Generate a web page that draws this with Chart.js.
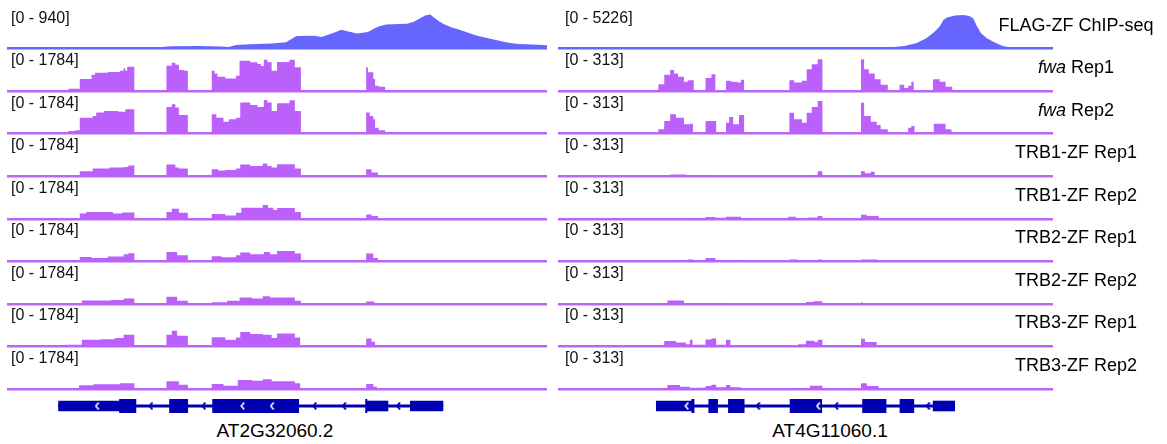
<!DOCTYPE html>
<html>
<head>
<meta charset="utf-8">
<script src="https://cdn.jsdelivr.net/npm/chart.js@4.4.1/dist/chart.umd.min.js"></script>
<style>
body { margin: 0; background: #fff; width: 1167px; height: 444px; position: relative; overflow: hidden;
       font-family: Arial, "Liberation Sans", sans-serif; color: #000; }
.box { position: absolute; }
.range { position: absolute; font-size: 16px; line-height: 16px; white-space: nowrap; color: #111; }
.name { position: absolute; font-size: 18px; line-height: 18px; white-space: nowrap; transform: translateX(-50%); }
.gene { position: absolute; font-size: 19px; line-height: 19px; white-space: nowrap; transform: translateX(-50%); }
</style>
</head>
<body>
<div class="box" style="left:7px;top:6px;width:540px;height:386px"><canvas id="leftTracks"></canvas></div>
<div class="box" style="left:558px;top:6px;width:495px;height:386px"><canvas id="rightTracks"></canvas></div>
<div class="box" style="left:7px;top:394px;width:540px;height:24px"><canvas id="leftGene"></canvas></div>
<div class="box" style="left:558px;top:394px;width:495px;height:24px"><canvas id="rightGene"></canvas></div>
<div id="labels"></div>
<script>
// track names and data ranges
const trackNames = ['FLAG-ZF ChIP-seq', '<i>fwa</i> Rep1', '<i>fwa</i> Rep2', 'TRB1-ZF Rep1', 'TRB1-ZF Rep2',
    'TRB2-ZF Rep1', 'TRB2-ZF Rep2', 'TRB3-ZF Rep1', 'TRB3-ZF Rep2'];
const leftRanges = [940, 1784, 1784, 1784, 1784, 1784, 1784, 1784, 1784];
const rightRanges = [5226, 313, 313, 313, 313, 313, 313, 313, 313];
const leftWindow = 1514;   // bp shown, AT2G32060
const rightWindow = 1258;  // bp shown, AT4G11060
const geneNames = ['AT2G32060.2', 'AT4G11060.1'];

// coverage as [position, value] - value holds until the next position
const leftChip = [[0, 33], [60, 25], [140, 30], [250, 22], [330, 28], [420, 33], [462, 61], [540, 72], [600, 60], [622, 44],
    [642, 97], [682, 119], [742, 138], [782, 174], [812, 345], [862, 351], [882, 317], [902, 386], [922, 455], [937, 516],
    [957, 469], [982, 414], [1012, 455], [1027, 538], [1042, 607], [1062, 662], [1122, 682], [1142, 745], [1157, 828],
    [1172, 911], [1187, 938], [1197, 856], [1212, 745], [1227, 662], [1247, 580], [1267, 524], [1287, 455], [1307, 386],
    [1327, 331], [1352, 276], [1377, 221], [1402, 166], [1432, 124], [1472, 110], [1514, 90]];
const leftFwaRep1 = [[0, 0], [172, 121], [204, 630], [237, 856], [247, 961], [282, 998], [317, 1066], [327, 1192], [332, 1066],
    [337, 1276], [357, 0], [447, 1328], [462, 1486], [472, 1381], [482, 1103], [497, 1066], [507, 0], [574, 1066], [582, 929],
    [590, 751], [612, 667], [642, 803], [652, 1591], [682, 1507], [702, 1418], [712, 1313], [720, 1643], [730, 1507],
    [742, 1066], [757, 1523], [792, 1643], [807, 1244], [824, 0], [1007, 1244], [1012, 982], [1027, 630], [1032, 278],
    [1042, 226], [1060, 0], [1514, 0]];
const leftFwaRep2 = [[0, 0], [172, 140], [192, 175], [204, 840], [240, 929], [250, 1103], [272, 1192], [312, 1155], [332, 1276],
    [357, 0], [447, 1400], [462, 1538], [472, 1365], [482, 982], [507, 0], [574, 1013], [587, 840], [607, 630], [622, 751],
    [642, 840], [654, 1628], [682, 1507], [702, 1400], [720, 1769], [730, 1628], [742, 1192], [757, 1591], [792, 1748],
    [807, 1192], [824, 0], [1007, 1103], [1017, 929], [1027, 751], [1032, 315], [1042, 175], [1060, 0], [1514, 0]];
const leftTrb1Rep1 = [[0, 0], [204, 263], [240, 404], [287, 457], [327, 488], [340, 562], [357, 0], [447, 614], [472, 457],
    [482, 404], [507, 0], [574, 368], [592, 299], [612, 331], [642, 404], [654, 614], [682, 541], [717, 667], [730, 541],
    [742, 457], [757, 630], [807, 404], [824, 0], [1007, 368], [1022, 194], [1040, 0], [1514, 0]];
const leftTrb1Rep2 = [[0, 0], [204, 278], [222, 352], [297, 278], [322, 331], [357, 0], [447, 352], [462, 525], [482, 315],
    [507, 0], [574, 247], [612, 175], [642, 315], [657, 578], [717, 719], [732, 578], [747, 457], [757, 562], [807, 352],
    [824, 0], [1007, 226], [1022, 140], [1040, 0], [1514, 0]];
const leftTrb2Rep1 = [[0, 0], [204, 226], [237, 175], [282, 247], [327, 368], [340, 420], [357, 0], [447, 488], [477, 315],
    [507, 0], [574, 263], [602, 210], [642, 315], [654, 457], [682, 368], [720, 488], [737, 368], [757, 541], [807, 404],
    [824, 0], [1007, 404], [1027, 175], [1040, 0], [1514, 0]];
const leftTrb2Rep2 = [[0, 0], [210, 175], [292, 210], [327, 278], [357, 0], [447, 368], [477, 158], [507, 0], [574, 89],
    [617, 158], [652, 331], [687, 278], [717, 404], [737, 331], [807, 158], [824, 0], [1007, 121], [1030, 0], [1514, 0]];
const leftTrb3Rep1 = [[0, 0], [162, 89], [210, 352], [262, 383], [302, 436], [327, 614], [357, 0], [447, 614], [462, 824],
    [477, 562], [507, 0], [574, 488], [612, 352], [642, 473], [654, 751], [682, 646], [717, 614], [742, 436], [757, 683],
    [807, 473], [822, 0], [1007, 420], [1022, 247], [1032, 0], [1514, 0]];
const leftTrb3Rep2 = [[0, 0], [202, 194], [242, 247], [317, 299], [357, 0], [447, 404], [482, 226], [507, 0], [574, 263],
    [607, 175], [647, 473], [687, 436], [717, 509], [742, 404], [807, 299], [822, 0], [1007, 263], [1027, 121], [1037, 0],
    [1514, 0]];

const rightChip = [[0, 0], [300, 15], [600, 20], [840, 154], [880, 410], [910, 820], [935, 1537], [955, 2460], [970, 3380],
    [980, 4410], [990, 4810], [1010, 5070], [1030, 5150], [1045, 5000], [1055, 4660], [1065, 3380], [1075, 2350],
    [1090, 1588], [1110, 922], [1130, 410], [1150, 154], [1180, 40], [1258, 0]];
const rightFwaRep1 = [[0, 0], [255, 64], [270, 150], [285, 193], [295, 163], [305, 132], [320, 86], [330, 101], [345, 0],
    [375, 120], [390, 156], [400, 0], [427, 95], [440, 86], [455, 80], [465, 104], [473, 0], [588, 101], [600, 80], [620, 95],
    [632, 202], [645, 248], [660, 294], [672, 0], [770, 294], [778, 202], [790, 163], [805, 110], [820, 58], [838, 0],
    [868, 58], [880, 28], [890, 49], [898, 86], [904, 0], [953, 110], [970, 86], [985, 40], [1002, 0], [1258, 0]];
const rightFwaRep2 = [[0, 0], [255, 40], [270, 117], [285, 178], [300, 147], [320, 86], [335, 92], [343, 0], [375, 117],
    [402, 0], [427, 101], [435, 154], [445, 86], [460, 172], [473, 0], [588, 193], [600, 132], [620, 101], [632, 193],
    [645, 246], [660, 301], [672, 0], [770, 285], [778, 163], [795, 110], [810, 80], [820, 40], [838, 0], [890, 55],
    [898, 71], [906, 0], [955, 92], [985, 40], [1000, 0], [1258, 0]];
const rightTrb1Rep1 = [[0, 0], [285, 16], [325, 9], [375, 9], [400, 0], [635, 9], [660, 46], [672, 0], [770, 46], [780, 28],
    [795, 40], [805, 0], [1258, 0]];
const rightTrb1Rep2 = [[0, 0], [330, 6], [375, 16], [400, 9], [427, 18], [465, 6], [490, 0], [585, 18], [605, 6], [635, 12],
    [660, 25], [672, 0], [770, 37], [785, 25], [815, 0], [1258, 0]];
const rightTrb2Rep1 = [[0, 0], [290, 6], [330, 18], [345, 9], [375, 31], [400, 12], [470, 0], [588, 16], [610, 6], [660, 18],
    [672, 0], [770, 16], [812, 0], [1258, 0]];
const rightTrb2Rep2 = [[0, 0], [278, 31], [320, 9], [375, 6], [430, 0], [630, 18], [650, 25], [672, 0], [770, 12], [775, 0],
    [1258, 0]];
const rightTrb3Rep1 = [[0, 0], [270, 49], [300, 37], [325, 21], [335, 61], [342, 16], [375, 64], [390, 74], [402, 16],
    [427, 61], [438, 0], [610, 21], [630, 52], [652, 40], [660, 61], [672, 0], [770, 71], [780, 40], [810, 0], [1258, 0]];
const rightTrb3Rep2 = [[0, 0], [278, 37], [310, 21], [335, 12], [375, 28], [390, 40], [402, 16], [427, 37], [438, 16],
    [465, 0], [585, 9], [640, 31], [672, 0], [770, 52], [785, 28], [815, 0], [1258, 0]];

// gene models: [start, end] in window bp
const leftUtr = [[133, 307], [1012, 1074], [1138, 1231]];
const leftCds = [[307, 354], [450, 502], [573, 819]];
const leftIntron = [[133, 1231]];
const leftTick = [[1010, 1014]];
const leftStrandIntron = [397, 548, 865, 949, 1104];
const leftStrandExon = [243, 659, 743];
const rightUtr = [[242, 334], [960, 1016]];
const rightCds = [[378, 401], [429, 470], [589, 671], [777, 838], [874, 910]];
const rightIntron = [[242, 1016]];
const rightTick = [[334, 340]];
const rightStrandIntron = [506, 709, 947];
const rightStrandExon = [321, 662];

const chipColour = '#6666ff';
const rnaColour = '#bb60fa';
const rnaLine = '#b866f7';
const geneColour = '#0000b0';

// coverage tracks, one stacked y axis per track
function trackChart(id, ranges, tracks, xMax) {
    const scales = { x: { type: 'linear', min: 0, max: xMax, offset: false, display: false } };
    const datasets = [];
    tracks.forEach((pts, i) => {
        scales['y' + i] = {
            type: 'linear',
            position: 'left',
            stack: 'tracks',
            stackWeight: 1,
            weight: tracks.length - i,
            min: 0,
            max: ranges[i] * 1.25,
            afterBuildTicks: (s) => { s.ticks = [{ value: 0 }]; },
            ticks: { display: false },
            grid: { color: i === 0 ? chipColour : rnaLine, lineWidth: 2.5, drawTicks: false },
            border: { display: false }
        };
        datasets.push({
            data: pts.map(p => ({ x: p[0], y: p[1] })),
            yAxisID: 'y' + i,
            stepped: i === 0 ? false : 'before',
            fill: 'origin',
            backgroundColor: i === 0 ? chipColour : rnaColour,
            borderColor: 'rgba(0,0,0,0)',
            borderWidth: 0,
            pointRadius: 0
        });
    });
    new Chart(document.getElementById(id), {
        type: 'line',
        data: { datasets },
        options: {
            responsive: true,
            maintainAspectRatio: false,
            animation: false,
            layout: { padding: { bottom: 3 } },
            plugins: { legend: { display: false }, tooltip: { enabled: false } },
            scales
        }
    });
}

// little "<" marks for minus strand
function chevron(colour, w) {
    const c = document.createElement('canvas');
    c.width = 5;
    c.height = 8;
    const g = c.getContext('2d');
    g.strokeStyle = colour;
    g.lineWidth = w;
    g.beginPath();
    g.moveTo(4, 0.5);
    g.lineTo(1.2, 4);
    g.lineTo(4, 7.5);
    g.stroke();
    return c;
}

function geneChart(id, utr, cds, intron, tick, strandIntron, strandExon, xMax) {
    const bars = (list, h) => ({
        type: 'bar',
        grouped: false,
        barThickness: h,
        backgroundColor: geneColour,
        data: list.map(r => ({ x: r, y: 'gene' }))
    });
    const marks = (list, img) => ({
        type: 'scatter',
        pointStyle: img,
        pointRadius: 4,
        data: list.map(v => ({ x: v, y: 'gene' }))
    });
    new Chart(document.getElementById(id), {
        type: 'bar',
        data: {
            labels: ['gene'],
            datasets: [
                marks(strandExon, chevron('#ffffff', 1.6)),
                marks(strandIntron, chevron(geneColour, 2)),
                bars(tick, 18),
                bars(cds, 18),
                bars(utr, 10),
                bars(intron, 2.5)
            ]
        },
        options: {
            indexAxis: 'y',
            responsive: true,
            maintainAspectRatio: false,
            animation: false,
            layout: { padding: 0 },
            plugins: { legend: { display: false }, tooltip: { enabled: false } },
            scales: {
                x: { type: 'linear', min: 0, max: xMax, offset: false, display: false },
                y: { type: 'category', labels: ['gene'], display: false }
            }
        }
    });
}

trackChart('leftTracks', leftRanges,
    [leftChip, leftFwaRep1, leftFwaRep2, leftTrb1Rep1, leftTrb1Rep2, leftTrb2Rep1, leftTrb2Rep2, leftTrb3Rep1, leftTrb3Rep2],
    leftWindow);
trackChart('rightTracks', rightRanges,
    [rightChip, rightFwaRep1, rightFwaRep2, rightTrb1Rep1, rightTrb1Rep2, rightTrb2Rep1, rightTrb2Rep2, rightTrb3Rep1, rightTrb3Rep2],
    rightWindow);
geneChart('leftGene', leftUtr, leftCds, leftIntron, leftTick, leftStrandIntron, leftStrandExon, leftWindow);
geneChart('rightGene', rightUtr, rightCds, rightIntron, rightTick, rightStrandIntron, rightStrandExon, rightWindow);

// text labels
const labels = document.getElementById('labels');
function addLabel(cls, html, left, top) {
    const d = document.createElement('div');
    d.className = cls;
    d.innerHTML = html;
    d.style.left = left + 'px';
    d.style.top = top + 'px';
    labels.appendChild(d);
}
trackNames.forEach((name, i) => {
    addLabel('range', '[0 - ' + leftRanges[i] + ']', 11, 9.5 + 42.5 * i);
    addLabel('range', '[0 - ' + rightRanges[i] + ']', 565, 9.5 + 42.5 * i);
    addLabel('name', name, 1076, 15.5 + 42.5 * i);
});
addLabel('gene', geneNames[0], 275, 420.5);
addLabel('gene', geneNames[1], 830, 420.5);
</script>
</body>
</html>
